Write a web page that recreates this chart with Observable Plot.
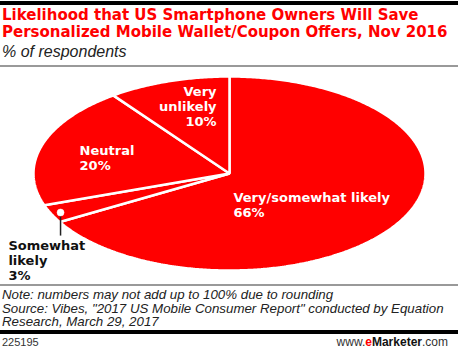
<!DOCTYPE html>
<html><head><meta charset="utf-8">
<script src="https://cdn.jsdelivr.net/npm/d3@7"></script>
<script src="https://cdn.jsdelivr.net/npm/@observablehq/plot@0.6"></script>
<style>
body{margin:0;background:#fff;font-family:"Liberation Sans",Arial,sans-serif;}
#wrap{position:relative;width:458px;height:350px;overflow:hidden;}
.abs{position:absolute;white-space:nowrap;}
</style></head><body>
<div id="wrap">
  <div class="abs" style="left:0;top:1px;width:458px;height:4px;background:#000"></div>
  <div class="abs" style="left:2px;top:7px;color:#f00;font-family:'DejaVu Sans',sans-serif;font-weight:bold;font-size:15px;line-height:17px;">Likelihood that US Smartphone Owners Will Save<br>Personalized Mobile Wallet/Coupon Offers, Nov 2016</div>
  <div class="abs" style="left:2px;top:43px;font-style:italic;font-size:16px;line-height:18px;color:#222">% of respondents</div>
  <div class="abs" style="left:0;top:65px;width:458px;height:1.5px;background:#999"></div>
  <div id="chart" class="abs" style="left:0;top:66px"></div>
  <div class="abs" style="left:0;top:284px;width:458px;height:1.5px;background:#999"></div>
  <div class="abs" style="left:2px;top:288px;font-style:italic;font-size:13.3px;line-height:13.5px;color:#222">Note: numbers may not add up to 100% due to rounding<br>Source: Vibes, "2017 US Mobile Consumer Report" conducted by Equation<br>Research, March 29, 2017</div>
  <div class="abs" style="left:0;top:330px;width:458px;height:3.5px;background:#000"></div>
  <div class="abs" style="left:2px;top:336px;font-size:11px;line-height:12px;color:#333">225195</div>
  <div class="abs" style="right:10px;top:335px;font-size:12px;line-height:14px;color:#333">www.<b style="color:#f00">e</b><b style="color:#111">Marketer</b>.com</div>
</div>
<script>
// Data
const categories = ["Very/somewhat likely", "Somewhat likely", "Neutral", "Very unlikely"];
const values = [66, 3, 20, 10];
const labelLines = ["Very/somewhat likely", "Somewhat\nlikely", "Neutral", "Very\nunlikely"];

// Slice polygons from the pie layout
const arcs = d3.pie().sort(null).value(d => d)(values);
const pts = [];
arcs.forEach((a, i) => {
  pts.push({k: categories[i], x: 0, y: 0});
  const n = Math.max(2, Math.ceil((a.endAngle - a.startAngle) / 0.01));
  for (let j = 0; j <= n; j++) {
    const t = a.startAngle + (a.endAngle - a.startAngle) * j / n;
    pts.push({k: categories[i], x: Math.sin(t), y: Math.cos(t)});
  }
});

// Label layout (positions in chart units)
const labelPos = [
  {x: 0.02, y: -0.325, anchor: "start", color: "#fff"},
  {x: -1.128, y: -0.897, anchor: "start", color: "#111"},
  {x: -0.765, y: 0.16, anchor: "start", color: "#fff"},
  {x: -0.066, y: 0.69, anchor: "end", color: "#fff"}
];
const labels = categories.map((c, i) => ({
  text: labelLines[i] + "\n" + values[i] + "%",
  ...labelPos[i]
}));
const whiteLabels = labels.filter(d => d.color === "#fff");
const darkLabels = labels.filter(d => d.color !== "#fff");
const lf = "'DejaVu Sans', sans-serif";

const chart = Plot.plot({
  width: 458, height: 218,
  marginLeft: 33, marginRight: 33, marginTop: 10, marginBottom: 14,
  x: {domain: [-1, 1], axis: null},
  y: {domain: [-1, 1], axis: null},
  style: {fontFamily: lf, background: "transparent"},
  marks: [
    Plot.line(pts, {x: "x", y: "y", z: "k", fill: "#f00", stroke: "#fff", strokeWidth: 2.5, curve: "linear-closed", strokeLinejoin: "miter"}),
    Plot.link([{x1: -0.862, y1: -0.402, x2: -0.862, y2: -0.64}], {x1: "x1", y1: "y1", x2: "x2", y2: "y2", stroke: "#222", strokeWidth: 1.5}),
    Plot.dot([{x: -0.862, y: -0.402}], {x: "x", y: "y", r: 3.5, fill: "#fff", stroke: "#fff", strokeWidth: 0.5}),
    Plot.text(whiteLabels.filter(d => d.anchor === "start"), {x: "x", y: "y", text: "text", textAnchor: "start", fill: "#fff", fontSize: 13, fontWeight: "bold", lineHeight: 1.15}),
    Plot.text(whiteLabels.filter(d => d.anchor === "end"), {x: "x", y: "y", text: "text", textAnchor: "end", fill: "#fff", fontSize: 13, fontWeight: "bold", lineHeight: 1.15}),
    Plot.text(darkLabels, {x: "x", y: "y", text: "text", textAnchor: "start", fill: "#111", fontSize: 13, fontWeight: "bold", lineHeight: 1.15})
  ]
});
document.getElementById("chart").appendChild(chart);
</script>
</body></html>
